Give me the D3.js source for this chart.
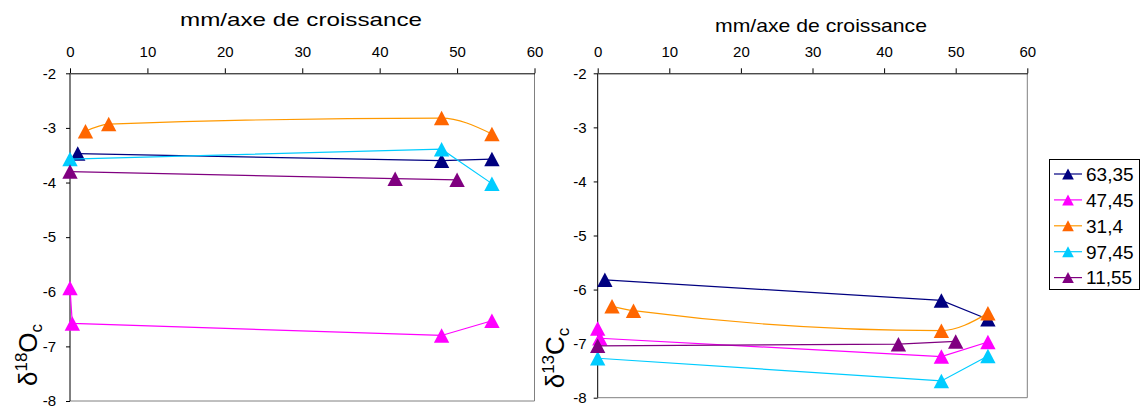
<!DOCTYPE html>
<html><head><meta charset="utf-8">
<script src="https://cdn.jsdelivr.net/npm/d3@7"></script>
<style>
body{margin:0;background:#fff;}
svg{display:block;font-family:"Liberation Sans",Arial,sans-serif;}
</style></head>
<body><svg id="c" width="1143" height="410"></svg>
<script>
// ---- data ----
const xTicks = [0,10,20,30,40,50,60];
const yTicks = [-2,-3,-4,-5,-6,-7,-8];
const seriesNames = ["63,35","47,45","31,4","97,45","11,55"];
const lineColors = ["#000080","#FF00FF","#FF9900","#00CCFF","#800080"];
const markerColors = ["#000080","#FF00FF","#FF6600","#00CCFF","#800080"];
const smoothFlags = [false,false,true,false,false];

const x_6335 = [1, 48, 54.5];
const x_4745 = [0, 0.3, 48, 54.5];
const x_314  = [2, 5, 48, 54.5];
const x_9745 = [0, 48, 54.5];
const x_1155 = [0, 42, 50];

const d18O_6335 = [-3.47, -3.6, -3.57];
const d18O_4745 = [-5.93, -6.58, -6.8, -6.53];
const d18O_314  = [-3.06, -2.93, -2.82, -3.11];
const d18O_9745 = [-3.57, -3.39, -4.02];
const d18O_1155 = [-3.8, -3.93, -3.95];

const d13C_6335 = [-5.82, -6.2, -6.55];
const d13C_4745 = [-6.72, -6.9, -7.24, -6.97];
const d13C_314  = [-6.31, -6.39, -6.76, -6.44];
const d13C_9745 = [-7.27, -7.69, -7.23];
const d13C_1155 = [-7.04, -7.01, -6.96];

const xsAll = [x_6335, x_4745, x_314, x_9745, x_1155];
const ysO = [d18O_6335, d18O_4745, d18O_314, d18O_9745, d18O_1155];
const ysC = [d13C_6335, d13C_4745, d13C_314, d13C_9745, d13C_1155];

const svg = d3.select("#c");
const tri = s => `M0,${-s/2}L${s*0.53},${s/2}L${-s*0.53},${s/2}Z`;

function panel(cfg){
  const x = d3.scaleLinear().domain([0,60]).range([cfg.x0,cfg.x1]);
  const y = d3.scaleLinear().domain([-8,-2]).range([cfg.y1,cfg.y0]);
  const g = svg.append("g");
  // plot border (right & bottom gray)
  g.append("line").attr("x1",cfg.x1).attr("x2",cfg.x1).attr("y1",cfg.y0).attr("y2",cfg.y1).attr("stroke","#808080");
  g.append("line").attr("x1",cfg.x0).attr("x2",cfg.x1).attr("y1",cfg.y1).attr("y2",cfg.y1).attr("stroke","#808080");
  // axes
  const ax = g.append("g").attr("transform",`translate(0,${cfg.y0})`)
    .call(d3.axisTop(x).tickValues(xTicks).tickSize(5).tickSizeOuter(0).tickPadding(11).tickFormat(d=>String(d)));
  ax.selectAll("text").attr("font-size",15).attr("font-family","Liberation Sans, Arial").attr("fill","#000");
  const ay = g.append("g").attr("transform",`translate(${cfg.x0},0)`)
    .call(d3.axisLeft(y).tickValues(yTicks).tickSize(4).tickSizeOuter(0).tickPadding(cfg.ypad).tickFormat(d=>String(d)));
  ay.selectAll("text").attr("font-size",15).attr("font-family","Liberation Sans, Arial").attr("fill","#000");
  [ax,ay].forEach(a=>{a.selectAll("path,line").attr("stroke","#000");});
  ay.select(".domain").attr("d",`M0,${cfg.y0}V${cfg.y1}`);
  // title
  g.append("text").attr("x",cfg.tx).attr("y",cfg.ty).attr("text-anchor","middle")
    .attr("font-size",19).attr("textLength",cfg.tw).attr("lengthAdjust","spacingAndGlyphs")
    .text("mm/axe de croissance");
  // y title
  const yt = g.append("text").attr("transform",`translate(${cfg.yx},${cfg.yy}) rotate(-90)`)
    .attr("text-anchor","middle").attr("font-size",26);
  yt.append("tspan").text("δ");
  yt.append("tspan").attr("font-size",17).attr("dy",-10).text(cfg.iso);
  yt.append("tspan").attr("dy",10).text(cfg.el);
  yt.append("tspan").attr("font-size",17).attr("dy",5).text("c");
  // series
  cfg.ys.forEach((ys,i)=>{
    const pts = xsAll[i].map((xv,j)=>[xv,ys[j]]);
    const line = d3.line().x(d=>x(d[0])).y(d=>y(d[1]))
      .curve(smoothFlags[i] ? d3.curveMonotoneX : d3.curveLinear);
    g.append("path").attr("d",line(pts)).attr("fill","none").attr("stroke",lineColors[i]).attr("stroke-width",1.2);
    g.selectAll(null).data(pts).enter().append("path")
      .attr("transform",d=>`translate(${x(d[0])},${y(d[1])})`)
      .attr("d",tri(14.5)).attr("fill",markerColors[i]);
  });
}

panel({x0:70,x1:534.5,y0:73.3,y1:401,ypad:10,tx:301,ty:26,tw:242,yx:37,yy:355,iso:"18",el:"O",ys:ysO});
panel({x0:597.7,x1:1027.3,y0:73.3,y1:397.7,ypad:7,tx:821,ty:32,tw:212,yx:564,yy:358,iso:"13",el:"C",ys:ysC});

// legend
const lg = svg.append("g");
lg.append("rect").attr("x",1049.5).attr("y",159.5).attr("width",90).attr("height",130)
  .attr("fill","#fff").attr("stroke","#000");
seriesNames.forEach((n,i)=>{
  const cy = 174 + i*25.9;
  lg.append("line").attr("x1",1054).attr("x2",1082).attr("y1",cy).attr("y2",cy).attr("stroke",lineColors[i]).attr("stroke-width",1.2);
  lg.append("path").attr("transform",`translate(1068,${cy})`).attr("d",tri(11)).attr("fill",markerColors[i]);
  lg.append("text").attr("x",1086).attr("y",cy).attr("dy","0.36em").attr("font-size",19).text(n);
});
</script></body></html>
